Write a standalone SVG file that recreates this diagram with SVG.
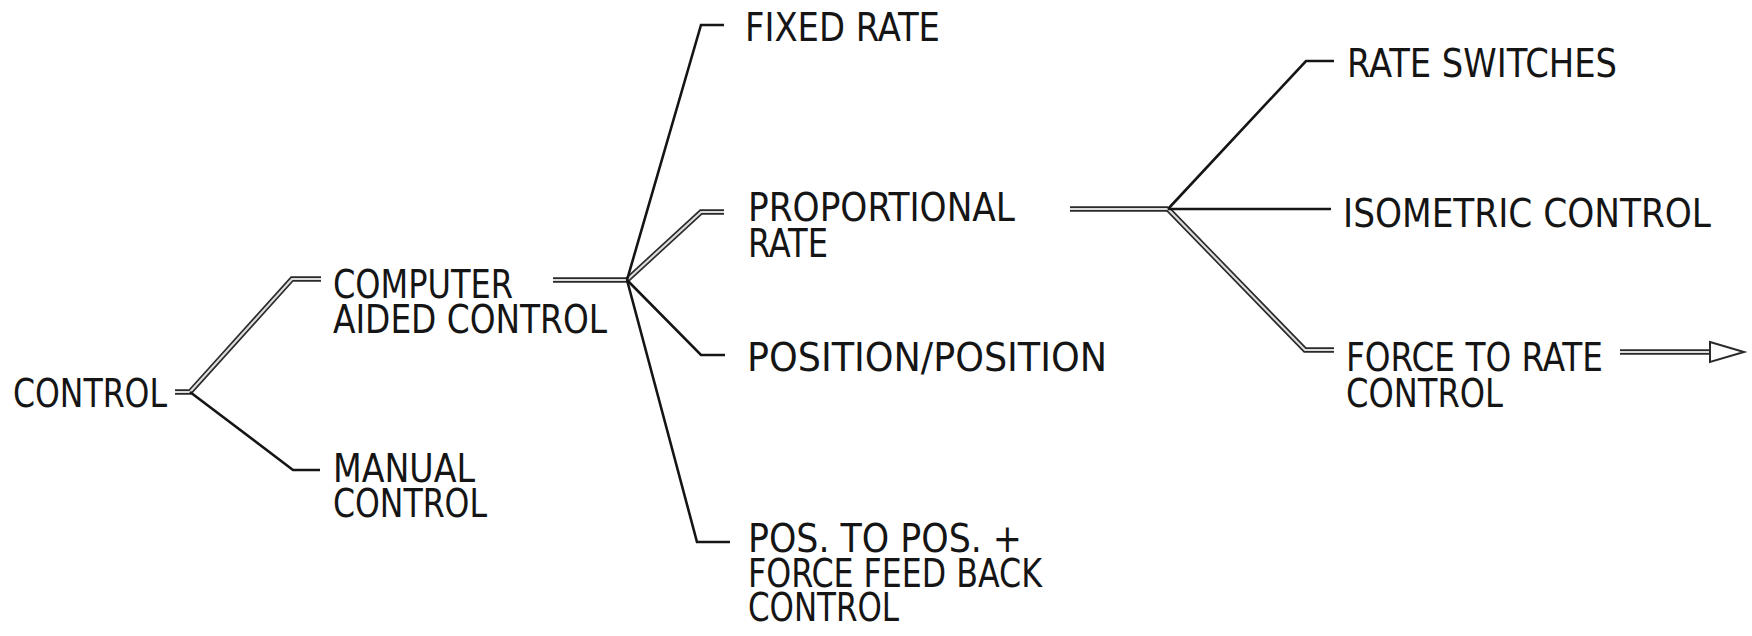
<svg xmlns="http://www.w3.org/2000/svg" xmlns:xlink="http://www.w3.org/1999/xlink" width="1752" height="636" viewBox="0 0 1752 636">
<style>
.t{font-family:'Liberation Sans Narrow','DejaVu Sans Condensed','Liberation Sans',sans-serif;font-size:39px;fill:#151515}
.s{fill:none;stroke:#151515;stroke-width:2.6;stroke-linejoin:miter}
.do{fill:none;stroke:#2a2a2a;stroke-width:5.5;stroke-linejoin:miter}
.di{fill:none;stroke:#dcdcdc;stroke-width:2.2;stroke-linejoin:miter}
.ah{fill:#fff;stroke:#2a2a2a;stroke-width:2}
</style>
<defs>
<path id="p-comp" d="M175,392 L190,392 L292,279 L321,279"/>
<path id="p-cac" d="M553,280 L627,280"/>
<path id="p-prop" d="M627,280 L701,212 L724,212"/>
<path id="p-pr3" d="M1070,209 L1168,209"/>
<path id="p-force" d="M1168,209 L1305,350 L1334,350"/>
<path id="p-arrow" d="M1620,352 L1712,352"/>
</defs>
<rect width="1752" height="636" fill="#fff"/>
<g id="connectors">
<use href="#p-comp" class="do"/><use href="#p-comp" class="di"/>
<use href="#p-cac" class="do"/><use href="#p-cac" class="di"/>
<use href="#p-prop" class="do"/><use href="#p-prop" class="di"/>
<use href="#p-pr3" class="do"/><use href="#p-pr3" class="di"/>
<use href="#p-force" class="do"/><use href="#p-force" class="di"/>
<use href="#p-arrow" class="do"/><use href="#p-arrow" class="di"/>
<polygon class="ah" points="1710,342 1744,352 1710,362"/>
<path class="s" d="M190,392 L293,470 L320,470"/>
<path class="s" d="M627,280 L701,25 L724,25"/>
<path class="s" d="M627,280 L701,355 L725,355"/>
<path class="s" d="M627,280 L697,542 L730,542"/>
<path class="s" d="M1168,209 L1306,61 L1334,61"/>
<path class="s" d="M1168,209 L1331,209"/>
</g>
<g id="node-control"><text class="t" x="13" y="407" textLength="154" lengthAdjust="spacingAndGlyphs">CONTROL</text></g>
<g id="node-computer-aided"><text class="t" x="333" y="298" textLength="180" lengthAdjust="spacingAndGlyphs">COMPUTER</text><text class="t" x="333" y="333" textLength="274" lengthAdjust="spacingAndGlyphs">AIDED CONTROL</text></g>
<g id="node-manual"><text class="t" x="333" y="482" textLength="142" lengthAdjust="spacingAndGlyphs">MANUAL</text><text class="t" x="333" y="517" textLength="154" lengthAdjust="spacingAndGlyphs">CONTROL</text></g>
<g id="node-fixed-rate"><text class="t" x="745" y="41" textLength="195" lengthAdjust="spacingAndGlyphs">FIXED RATE</text></g>
<g id="node-proportional"><text class="t" x="748" y="221" textLength="267" lengthAdjust="spacingAndGlyphs">PROPORTIONAL</text><text class="t" x="748" y="257" textLength="80" lengthAdjust="spacingAndGlyphs">RATE</text></g>
<g id="node-position"><text class="t" x="747" y="371" textLength="360" lengthAdjust="spacingAndGlyphs">POSITION/POSITION</text></g>
<g id="node-pos-force"><text class="t" x="748" y="552" textLength="274" lengthAdjust="spacingAndGlyphs">POS. TO POS. +</text><text class="t" x="748" y="587" textLength="294" lengthAdjust="spacingAndGlyphs">FORCE FEED BACK</text><text class="t" x="748" y="621" textLength="151" lengthAdjust="spacingAndGlyphs">CONTROL</text></g>
<g id="node-rate-switches"><text class="t" x="1347" y="77" textLength="270" lengthAdjust="spacingAndGlyphs">RATE SWITCHES</text></g>
<g id="node-isometric"><text class="t" x="1343" y="227" textLength="368" lengthAdjust="spacingAndGlyphs">ISOMETRIC CONTROL</text></g>
<g id="node-force-rate"><text class="t" x="1346" y="371" textLength="257" lengthAdjust="spacingAndGlyphs">FORCE TO RATE</text><text class="t" x="1346" y="407" textLength="157" lengthAdjust="spacingAndGlyphs">CONTROL</text></g>
</svg>
